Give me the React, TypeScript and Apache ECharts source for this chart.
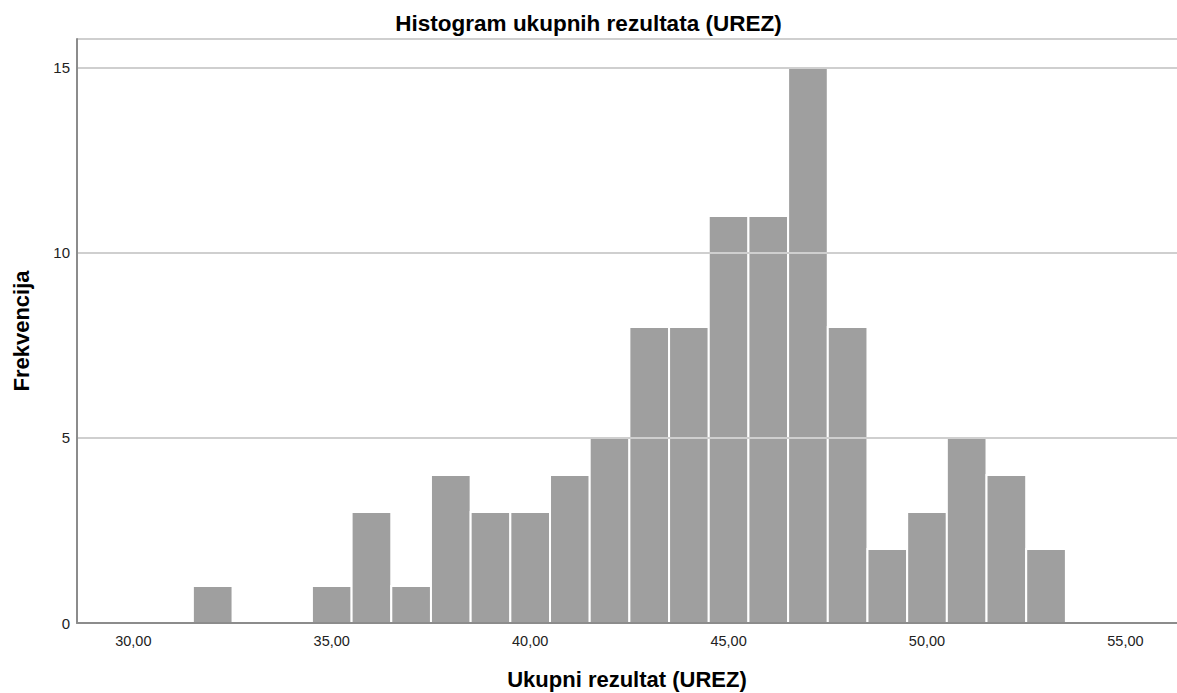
import React, { useEffect, useRef } from "react";
import * as echarts from "echarts";

const binCenters = [32, 33, 34, 35, 36, 37, 38, 39, 40, 41, 42, 43, 44, 45, 46, 47, 48, 49, 50, 51, 52, 53];
const frequencies = [1, 0, 0, 1, 3, 1, 4, 3, 3, 4, 5, 8, 8, 11, 11, 15, 8, 2, 3, 5, 4, 2];
const xTicks = [30, 35, 40, 45, 50, 55];
const binWidth = 1;

const title = "Histogram ukupnih rezultata (UREZ)";
const xName = "Ukupni rezultat (UREZ)";
const yName = "Frekvencija";

const FONT = "Liberation Sans, Arial, sans-serif";

export default function App() {
  const ref = useRef<HTMLDivElement>(null);
  useEffect(() => {
    if (!ref.current) return;
    const chart = echarts.init(ref.current, null, { renderer: "svg" });
    const data = binCenters.map((c, i) => [c, frequencies[i]]);
    chart.setOption({
      animation: false,
      backgroundColor: "#ffffff",
      textStyle: { fontFamily: FONT },
      title: {
        text: title,
        left: "center",
        top: 7,
        textStyle: { fontSize: 22.5, fontWeight: "bold", color: "#000", fontFamily: FONT },
      },
      grid: { left: 77, right: 0, top: 39, bottom: 70, containLabel: false, outerBoundsMode: "none" },
      xAxis: {
        type: "value",
        min: 28.58,
        max: 56.3,
        z: 5,
        name: xName,
        nameLocation: "middle",
        nameGap: 45,
        nameTextStyle: { fontSize: 22, fontWeight: "bold", color: "#000", fontFamily: FONT },
        axisLine: { show: true, lineStyle: { color: "#8c8c8c", width: 2 } },
        axisTick: { show: false },
        splitLine: { show: false },
        axisLabel: {
          customValues: xTicks,
          formatter: (v: number) => v.toFixed(2).replace(".", ","),
          fontSize: 14.5,
          color: "#222",
          margin: 10,
        },
      },
      yAxis: {
        type: "value",
        min: 0,
        max: 15.78,
        interval: 5,
        z: 5,
        name: yName,
        nameLocation: "middle",
        nameGap: 45,
        nameTextStyle: { fontSize: 22, fontWeight: "bold", color: "#000", fontFamily: FONT },
        axisLine: { show: true, lineStyle: { color: "#8c8c8c", width: 2 } },
        axisTick: { show: false },
        axisLabel: {
          fontSize: 15,
          color: "#222",
          margin: 7,
          showMaxLabel: false,
        },
        splitLine: { show: true, lineStyle: { color: "#cfcfcf", width: 2 } },
      },
      series: [
        {
          type: "custom",
          data,
          renderItem: (params: any, api: any) => {
            const c = api.value(0);
            const f = api.value(1);
            if (!f) return null;
            const p0 = api.coord([c - binWidth / 2, f]);
            const p1 = api.coord([c + binWidth / 2, 0]);
            return {
              type: "rect",
              shape: { x: p0[0], y: p0[1], width: p1[0] - p0[0], height: p1[1] - p0[1] },
              style: { fill: "#9f9f9f", stroke: "#ffffff", lineWidth: 2 },
            };
          },
          encode: { x: 0, y: 1 },
          z: 3,
        },
      ],
    });
    return () => chart.dispose();
  }, []);
  return (
    <div
      ref={ref}
      style={{ position: "fixed", left: 0, top: 0, width: 1177, height: 693 }}
    />
  );
}
